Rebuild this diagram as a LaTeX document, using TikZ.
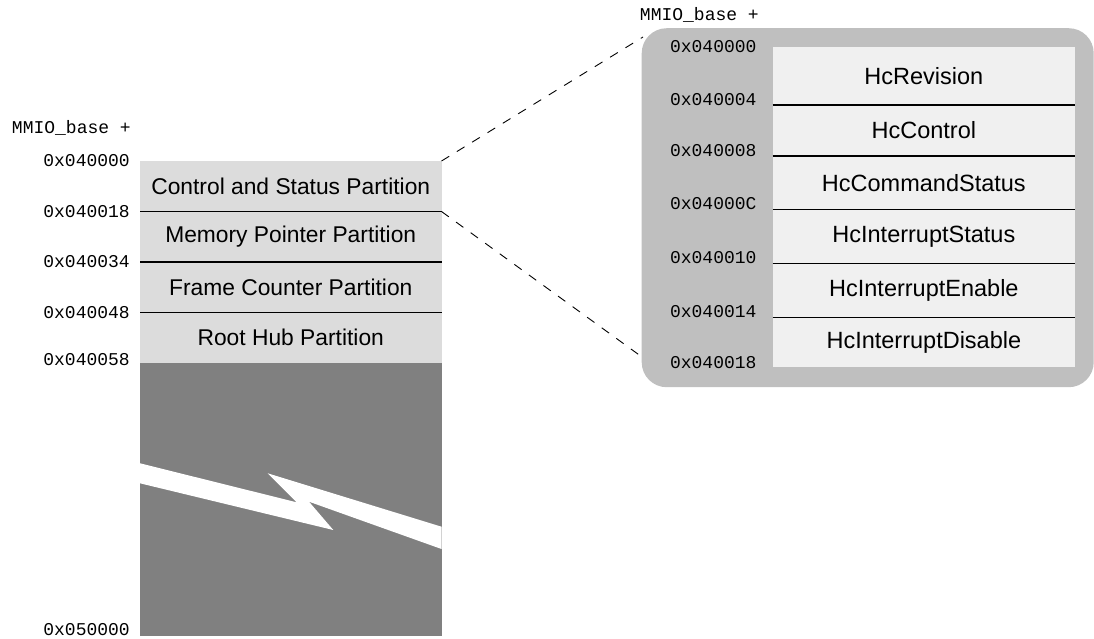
\documentclass[tikz,border=0pt]{standalone}
\usepackage{fontspec}
\setmainfont{Liberation Sans}
\setmonofont{Liberation Mono}
\usetikzlibrary{positioning}
\definecolor{partgray}{HTML}{DCDCDC}
\definecolor{freegray}{HTML}{808080}
\definecolor{boxgray}{HTML}{BFBFBF}
\definecolor{reggray}{HTML}{F0F0F0}

\begin{document}
\begin{tikzpicture}[x=1pt, y=-1pt,
    part/.style={rectangle, fill=partgray, minimum width=301.5pt, minimum height=50.5pt,
                 inner sep=0pt, outer sep=0pt, font=\fontsize{22.8}{26}\selectfont},
    reg/.style={rectangle, fill=reggray, minimum width=302.3pt,
                inner sep=0pt, outer sep=0pt, font=\fontsize{23.5}{27}\selectfont},
    addr/.style={inner sep=0pt, font=\ttfamily\fontsize{18}{20}\selectfont},
    sep/.style={line width=1.5pt},
    zoomline/.style={dash pattern=on 9pt off 9pt, line width=0.9pt}
]
\useasboundingbox (0,0) rectangle (1094,638);

% left: partition map
\node[part, anchor=north west] (csp) at (140,161) {Control and Status Partition};
\node[part, below=0pt of csp] (mpp) {Memory Pointer Partition};
\node[part, below=0pt of mpp] (fcp) {Frame Counter Partition};
\node[part, below=0pt of fcp] (rhp) {Root Hub Partition};
\node[rectangle, fill=freegray, minimum width=301.5pt, minimum height=273pt,
      inner sep=0pt, outer sep=0pt, below=0pt of rhp] (free) {};
\fill[white] (140,463.3) -- (296.7,502.3) -- (267.7,473.3) -- (441.5,526.7)
    -- (441.5,549) -- (309,501.7) -- (333.3,530) -- (140,483.3) -- cycle;

\draw[sep] (csp.south west) -- (csp.south east);
\draw[sep] (mpp.south west) -- (mpp.south east);
\draw[sep] (fcp.south west) -- (fcp.south east);

\node[addr, anchor=east] (lbase) at (131,128) {MMIO\_base +};
\node[addr, anchor=east, xshift=-10pt] (l00) at (csp.north west) {0x040000};
\node[addr, anchor=east, xshift=-10pt] (l18) at (csp.south west) {0x040018};
\node[addr, anchor=east, xshift=-10pt] (l34) at (mpp.south west) {0x040034};
\node[addr, anchor=east, xshift=-10pt] (l48) at (fcp.south west) {0x040048};
\node[addr, anchor=east, xshift=-10pt, yshift=3pt] (l58) at (rhp.south west) {0x040058};
\node[addr, anchor=east, xshift=-10pt, yshift=6pt] (lend) at (free.south west) {0x050000};

% right: control and status registers
\node[rectangle, fill=boxgray, rounded corners=25pt, minimum width=452pt,
      minimum height=359pt, anchor=north west] (csr) at (641.5,28) {};
\node[reg, minimum height=58.3pt, anchor=north west] (rev) at (772.7,46.7) {HcRevision};
\node[reg, minimum height=51pt, below=0pt of rev] (ctl) {HcControl};
\node[reg, minimum height=53.5pt, below=0pt of ctl] (cmd) {HcCommandStatus};
\node[reg, minimum height=54pt, below=0pt of cmd] (ist) {HcInterruptStatus};
\node[reg, minimum height=54pt, below=0pt of ist] (ien) {HcInterruptEnable};
\node[reg, minimum height=49.5pt, below=0pt of ien] (idis) {HcInterruptDisable};

\draw[sep] (rev.south west) -- (rev.south east);
\draw[sep] (ctl.south west) -- (ctl.south east);
\draw[sep] (cmd.south west) -- (cmd.south east);
\draw[sep] (ist.south west) -- (ist.south east);
\draw[sep] (ien.south west) -- (ien.south east);

\node[addr, anchor=east] (rbase) at (759,15) {MMIO\_base +};
\node[addr, anchor=east, xshift=-16pt] (r00) at (rev.north west) {0x040000};
\node[addr, anchor=base east, xshift=-16pt] (r04) at (rev.south west) {0x040004};
\node[addr, anchor=base east, xshift=-16pt] (r08) at (ctl.south west) {0x040008};
\node[addr, anchor=base east, xshift=-16pt] (r0c) at (cmd.south west) {0x04000C};
\node[addr, anchor=base east, xshift=-16pt] (r10) at (ist.south west) {0x040010};
\node[addr, anchor=base east, xshift=-16pt] (r14) at (ien.south west) {0x040014};
\node[addr, anchor=base east, xshift=-16pt, yshift=-1.5pt] (r18) at (idis.south west) {0x040018};

% zoom lines
\coordinate (ztop) at (643,37);
\coordinate (zbot) at (642,357);
\draw[zoomline] (csp.north east) -- (ztop);
\draw[zoomline] (csp.south east) -- (zbot);
\end{tikzpicture}
\end{document}
